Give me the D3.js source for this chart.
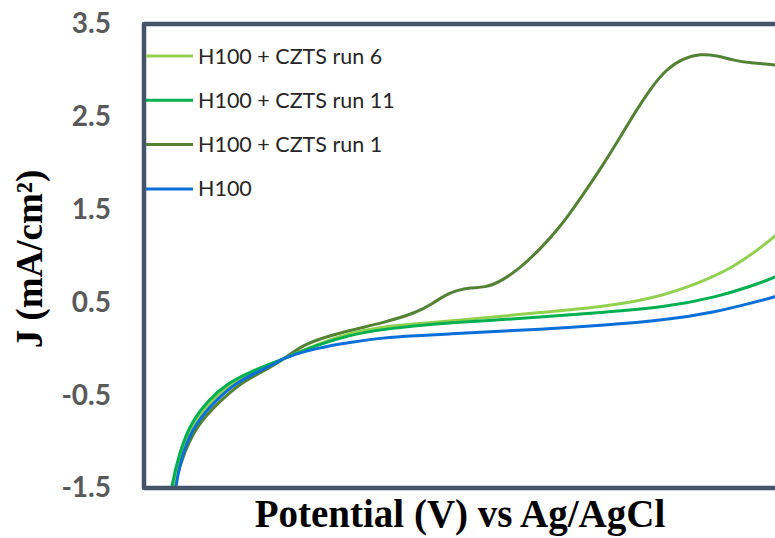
<!DOCTYPE html>
<html>
<head>
<meta charset="utf-8">
<script src="https://cdn.jsdelivr.net/npm/d3@7"></script>
<style>
  html, body { margin: 0; padding: 0; background: #ffffff; }
  svg { display: block; }
</style>
</head>
<body>
<svg id="chart" width="775" height="538"></svg>
<script>
// Linear sweep voltammetry, J vs potential
const yTicks = [-1.5, -0.5, 0.5, 1.5, 2.5, 3.5];

const seriesNames = ["H100 + CZTS run 6", "H100 + CZTS run 11", "H100 + CZTS run 1", "H100"];
const seriesColors = ["#92D050", "#00B050", "#548235", "#0A6FD8"];

// run 6
const run6V = [-0.936, -0.933, -0.910, -0.882, -0.838, -0.791, -0.741, -0.670, -0.589, -0.510, -0.432, -0.351, -0.273, -0.201, -0.059, 0.084, 0.203, 0.322, 0.400, 0.448, 0.500, 0.520];
const run6J = [-1.70, -1.50, -1.09, -0.80, -0.55, -0.37, -0.25, -0.11, 0.05, 0.17, 0.24, 0.27, 0.30, 0.33, 0.39, 0.45, 0.53, 0.71, 0.88, 1.03, 1.21, 1.30];

// run 11
const run11V = [-0.939, -0.936, -0.914, -0.889, -0.847, -0.801, -0.748, -0.693, -0.670, -0.589, -0.510, -0.432, -0.351, -0.273, -0.201, -0.059, 0.084, 0.243, 0.362, 0.441, 0.500, 0.520];
const run11J = [-1.70, -1.50, -1.09, -0.80, -0.55, -0.37, -0.25, -0.15, -0.11, 0.04, 0.15, 0.21, 0.25, 0.28, 0.30, 0.34, 0.39, 0.45, 0.56, 0.67, 0.77, 0.82];

// run 1
const run1V = [-0.934, -0.931, -0.903, -0.870, -0.816, -0.770, -0.724, -0.670, -0.629, -0.589, -0.510, -0.432, -0.351, -0.313, -0.284, -0.256, -0.225, -0.189, -0.154, -0.106, -0.059, -0.011, 0.036, 0.084, 0.124, 0.162, 0.203, 0.243, 0.281, 0.322, 0.362, 0.400, 0.441, 0.500, 0.520];
const run1J = [-1.70, -1.50, -1.09, -0.80, -0.55, -0.37, -0.26, -0.12, 0.02, 0.10, 0.20, 0.28, 0.39, 0.49, 0.58, 0.63, 0.66, 0.66, 0.72, 0.87, 1.07, 1.31, 1.61, 1.93, 2.22, 2.51, 2.80, 3.02, 3.13, 3.18, 3.16, 3.11, 3.08, 3.06, 3.05];

// bare H100
const h100V = [-0.929, -0.926, -0.907, -0.877, -0.828, -0.782, -0.731, -0.684, -0.670, -0.589, -0.510, -0.432, -0.351, -0.273, -0.201, -0.059, 0.084, 0.243, 0.362, 0.441, 0.500, 0.520];
const h100J = [-1.70, -1.50, -1.09, -0.80, -0.55, -0.37, -0.25, -0.15, -0.10, 0.01, 0.07, 0.12, 0.14, 0.16, 0.18, 0.21, 0.25, 0.31, 0.40, 0.49, 0.56, 0.59];

const series = [
  { name: seriesNames[0], color: seriesColors[0], v: run6V, j: run6J },
  { name: seriesNames[1], color: seriesColors[1], v: run11V, j: run11J },
  { name: seriesNames[2], color: seriesColors[2], v: run1V, j: run1J },
  { name: seriesNames[3], color: seriesColors[3], v: h100V, j: h100J }
];

const svg = d3.select("#chart");
const W = 775, H = 538;
const margin = { left: 144, top: 24, bottom: 50 };
const plotBottom = H - margin.bottom; // 488

const x = d3.scaleLinear().domain([-1.0, 0.5]).range([margin.left, W]);
const y = d3.scaleLinear().domain([-1.5, 3.5]).range([plotBottom, margin.top]);

// clip region for the curves
svg.append("defs").append("clipPath").attr("id", "plotClip")
  .append("rect")
  .attr("x", margin.left).attr("y", margin.top)
  .attr("width", W - margin.left + 20).attr("height", plotBottom - margin.top);

// smoothed curves (drawn back to front)
const line = d3.line()
  .x(d => x(d[0]))
  .y(d => y(d[1]))
  .curve(d3.curveBasis);

const drawOrder = [2, 0, 1, 3];
const g = svg.append("g").attr("clip-path", "url(#plotClip)");
drawOrder.forEach(i => {
  const s = series[i];
  g.append("path")
    .datum(d3.zip(s.v, s.j))
    .attr("fill", "none")
    .attr("stroke", s.color)
    .attr("stroke-width", 3)
    .attr("stroke-linecap", "round")
    .attr("stroke-linejoin", "round")
    .attr("d", line);
});

// plot frame (right edge runs past the visible area)
svg.append("rect")
  .attr("x", margin.left)
  .attr("y", margin.top)
  .attr("width", W - margin.left + 40)
  .attr("height", plotBottom - margin.top)
  .attr("fill", "none")
  .attr("stroke", "#44546A")
  .attr("stroke-width", 4.5)
  .attr("stroke-linejoin", "round");

// y axis labels (plain hyphen for negatives)
const yAxis = d3.axisLeft(y).tickValues(yTicks).tickSize(0).tickPadding(33)
  .tickFormat(d => d.toFixed(1));
const ya = svg.append("g").attr("transform", `translate(${margin.left},0)`).call(yAxis);
ya.select(".domain").remove();
ya.selectAll("text")
  .attr("font-family", "Lato, 'Open Sans', sans-serif")
  .attr("font-weight", "bold")
  .attr("font-size", 28)
  .attr("fill", "#595959");

// legend
const legend = svg.append("g");
series.forEach((s, i) => {
  const ly = 56 + i * 44.3;
  legend.append("line")
    .attr("x1", 146).attr("x2", 193)
    .attr("y1", ly).attr("y2", ly)
    .attr("stroke", s.color)
    .attr("stroke-width", 3);
  legend.append("text")
    .attr("x", 198).attr("y", ly)
    .attr("dy", "0.35em")
    .attr("font-family", "Lato, 'Open Sans', sans-serif")
    .attr("font-size", 21.5)
    .attr("fill", "#262626")
    .text(s.name);
});

// axis titles
svg.append("text")
  .attr("x", 460).attr("y", 527)
  .attr("text-anchor", "middle")
  .attr("font-family", "'Liberation Serif', 'Times New Roman', serif")
  .attr("font-weight", "bold")
  .attr("font-size", 39)
  .attr("fill", "#000000")
  .text("Potential (V) vs Ag/AgCl");

svg.append("text")
  .attr("transform", "translate(42,259) rotate(-90)")
  .attr("text-anchor", "middle")
  .attr("font-family", "'Liberation Serif', 'Times New Roman', serif")
  .attr("font-weight", "bold")
  .attr("font-size", 37)
  .attr("fill", "#000000")
  .text("J (mA/cm²)");
</script>
</body>
</html>
